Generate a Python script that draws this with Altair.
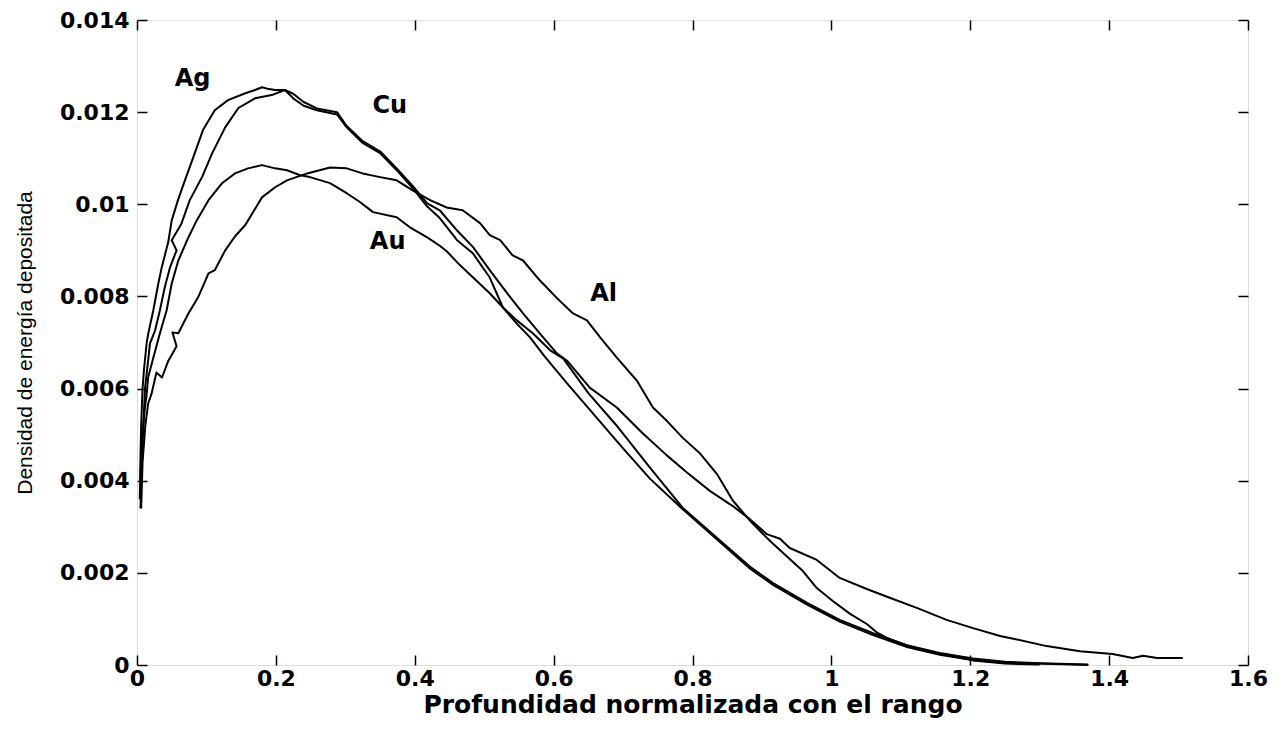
import altair as alt
import pandas as pd

x_ticks = [0, 0.2, 0.4, 0.6, 0.8, 1.0, 1.2, 1.4, 1.6]
y_ticks = [0, 0.002, 0.004, 0.006, 0.008, 0.010, 0.012, 0.014]

ag_x = [0.004, 0.005, 0.006, 0.008, 0.010, 0.012, 0.014, 0.0163, 0.0235, 0.0307, 0.0356, 0.045, 0.050, 0.059, 0.069, 0.081, 0.095, 0.112, 0.131, 0.156, 0.170, 0.180, 0.190, 0.199, 0.213, 0.225, 0.240, 0.259, 0.288, 0.302, 0.325, 0.350, 0.374, 0.397, 0.418, 0.436, 0.461, 0.484, 0.508, 0.527, 0.547, 0.570, 0.595, 0.614, 0.650, 0.690, 0.739, 0.786, 0.835, 0.883, 0.916, 0.965, 1.012, 1.060, 1.109, 1.156, 1.204, 1.250, 1.300, 1.370]
ag_y = [0.0036, 0.0045, 0.0052, 0.0060, 0.0064, 0.0067, 0.0070, 0.0072, 0.0077, 0.00828, 0.00863, 0.00918, 0.00965, 0.01009, 0.01052, 0.01102, 0.01161, 0.01204, 0.01226, 0.01241, 0.01248, 0.01254, 0.01250, 0.01248, 0.01248, 0.01230, 0.01214, 0.01204, 0.01195, 0.01167, 0.01133, 0.01111, 0.01074, 0.01035, 0.00995, 0.00970, 0.00922, 0.00893, 0.00841, 0.00776, 0.00748, 0.00720, 0.00683, 0.00665, 0.00590, 0.00521, 0.00428, 0.00341, 0.00276, 0.00213, 0.00178, 0.00135, 0.00098, 0.00069, 0.00043, 0.00026, 0.00014, 0.00007, 0.00004, 0.00001]

cu_x = [0.005, 0.0065, 0.0086, 0.0115, 0.016, 0.0187, 0.026, 0.033, 0.040, 0.0475, 0.057, 0.050, 0.064, 0.076, 0.094, 0.108, 0.127, 0.146, 0.170, 0.194, 0.213, 0.225, 0.240, 0.259, 0.288, 0.302, 0.325, 0.350, 0.374, 0.397, 0.418, 0.436, 0.461, 0.484, 0.508, 0.533, 0.556, 0.580, 0.605, 0.619, 0.652, 0.691, 0.729, 0.763, 0.792, 0.825, 0.858, 0.883, 0.907, 0.926, 0.940, 0.979, 1.012, 1.051, 1.084, 1.123, 1.166, 1.204, 1.243, 1.262, 1.310, 1.358, 1.405, 1.434, 1.449, 1.469, 1.506]
cu_y = [0.0034, 0.0042, 0.0050, 0.0060, 0.0066, 0.00698, 0.00726, 0.0077, 0.0082, 0.00863, 0.0090, 0.00922, 0.00958, 0.01009, 0.0106, 0.0111, 0.01167, 0.01209, 0.0123, 0.01237, 0.01248, 0.0124, 0.01222, 0.01208, 0.01200, 0.0117, 0.01137, 0.01115, 0.01078, 0.0104, 0.01002, 0.00987, 0.00943, 0.00907, 0.00857, 0.00807, 0.00763, 0.0072, 0.00676, 0.00661, 0.00602, 0.00559, 0.00502, 0.00455, 0.00418, 0.00378, 0.00345, 0.00316, 0.00284, 0.00274, 0.00254, 0.00228, 0.00189, 0.00165, 0.00146, 0.00124, 0.00098, 0.0008, 0.00063, 0.00057, 0.00041, 0.0003, 0.00024, 0.00015, 0.0002, 0.00015, 0.00015]

au_x = [0.005, 0.007, 0.0115, 0.014, 0.016, 0.0235, 0.033, 0.0427, 0.050, 0.0595, 0.074, 0.086, 0.103, 0.122, 0.141, 0.160, 0.180, 0.199, 0.216, 0.235, 0.249, 0.278, 0.302, 0.321, 0.340, 0.374, 0.393, 0.418, 0.436, 0.446, 0.465, 0.484, 0.508, 0.527, 0.547, 0.566, 0.587, 0.620, 0.660, 0.700, 0.739, 0.786, 0.835, 0.883, 0.916, 0.965, 1.012, 1.060, 1.109, 1.156, 1.204, 1.250, 1.320, 1.370]
au_y = [0.0040, 0.0049, 0.0056, 0.00589, 0.00624, 0.00667, 0.0072, 0.0077, 0.00828, 0.00878, 0.00928, 0.00965, 0.01009, 0.01045, 0.01067, 0.01078, 0.01085, 0.01078, 0.01074, 0.01063, 0.01059, 0.01046, 0.01024, 0.01005, 0.00983, 0.00972, 0.0095, 0.00928, 0.00910, 0.00898, 0.00868, 0.00841, 0.00807, 0.00776, 0.00741, 0.00711, 0.0067, 0.0061, 0.0054, 0.0047, 0.00404, 0.00338, 0.00273, 0.00209, 0.00174, 0.00131, 0.00094, 0.00065, 0.00039, 0.00022, 0.00011, 0.00005, 0.00002, 0.0]

al_x = [0.006, 0.008, 0.012, 0.016, 0.021, 0.028, 0.036, 0.045, 0.057, 0.051, 0.0595, 0.074, 0.088, 0.103, 0.112, 0.127, 0.141, 0.156, 0.166, 0.180, 0.199, 0.216, 0.245, 0.278, 0.302, 0.325, 0.350, 0.374, 0.397, 0.422, 0.446, 0.469, 0.494, 0.508, 0.523, 0.541, 0.556, 0.580, 0.605, 0.628, 0.648, 0.667, 0.691, 0.720, 0.743, 0.763, 0.786, 0.811, 0.835, 0.858, 0.883, 0.907, 0.916, 0.940, 0.959, 0.979, 1.002, 1.027, 1.051, 1.066, 1.080, 1.117, 1.156, 1.204, 1.250, 1.300]
al_y = [0.0034, 0.0044, 0.0052, 0.00567, 0.00589, 0.00635, 0.00624, 0.0066, 0.00692, 0.00722, 0.0072, 0.00763, 0.00798, 0.0085, 0.00857, 0.009, 0.0093, 0.00955, 0.0098, 0.01015, 0.01037, 0.01052, 0.01067, 0.0108, 0.01078, 0.01067, 0.01059, 0.01052, 0.0103, 0.01009, 0.00993, 0.00987, 0.00959, 0.00933, 0.00922, 0.00889, 0.00878, 0.00835, 0.00796, 0.00763, 0.00748, 0.00711, 0.00667, 0.00617, 0.00559, 0.0053, 0.00493, 0.00459, 0.00415, 0.00357, 0.00313, 0.00276, 0.00263, 0.0023, 0.00204, 0.00167, 0.00139, 0.00111, 0.00089, 0.0007, 0.00059, 0.00037, 0.00024, 0.0001, 0.00003, 0.00001]

label_text = ["Ag", "Cu", "Au", "Al"]
label_x = [0.080, 0.364, 0.361, 0.672]
label_y = [0.01272, 0.01214, 0.00918, 0.00805]

rows = []
for name, xs, ys in [("Ag", ag_x, ag_y), ("Cu", cu_x, cu_y), ("Au", au_x, au_y), ("Al", al_x, al_y)]:
    for i, (a, b) in enumerate(zip(xs, ys)):
        rows.append({"serie": name, "i": i, "x": a, "y": b})
df = pd.DataFrame(rows)
labels_df = pd.DataFrame({"t": label_text, "x": label_x, "y": label_y})

xscale = alt.Scale(domain=[0, 1.6], nice=False, zero=False)
yscale = alt.Scale(domain=[0, 0.014], nice=False, zero=False)

common = dict(domain=False, grid=False, offset=-10, tickSize=10, tickColor="black",
              tickWidth=1.5, labelColor="black", labelFont="DejaVu Sans",
              labelFontWeight="bold", labelFontSize=22, labelOverlap=False)

x_bottom = alt.Axis(orient="bottom", values=x_ticks, format=".1~f", labelPadding=3,
                    labelFlush=False, title="Profundidad normalizada con el rango",
                    titleFont="DejaVu Sans", titleFontWeight="bold", titleFontSize=25,
                    titleColor="black", titlePadding=3, **common)
y_left = alt.Axis(orient="left", values=y_ticks, format=".3~f", labelPadding=8,
                  title="Densidad de energía depositada", titleFont="Liberation Sans",
                  titleFontWeight="normal", titleFontSize=21, titleColor="black",
                  titlePadding=24, **common)
x_top = alt.Axis(orient="top", values=x_ticks, labels=False, **common)
y_right = alt.Axis(orient="right", values=y_ticks, labels=False, **common)

lines = alt.Chart(df).mark_line(color="black", strokeWidth=2, strokeJoin="round").encode(
    x=alt.X("x:Q", scale=xscale, axis=x_bottom),
    y=alt.Y("y:Q", scale=yscale, axis=y_left),
    detail="serie:N",
    order="i:Q",
)

labels = alt.Chart(labels_df).mark_text(font="DejaVu Sans", fontWeight="bold", fontSize=24,
                                        color="black", align="center", baseline="middle").encode(
    x=alt.X("x:Q", scale=xscale, axis=x_top, title=None),
    y=alt.Y("y:Q", scale=yscale, axis=y_right, title=None),
    text="t:N",
)

chart = alt.layer(lines, labels).resolve_axis(x="independent", y="independent").properties(
    width=1111, height=645,
    autosize=alt.AutoSizeParams(type="none"),
    padding={"left": 129, "top": 12, "right": 30, "bottom": 60},
).configure_view(stroke="black", strokeWidth=2).configure(background="white")

chart.save("out.html", embed_options={"renderer": "svg", "actions": False})
